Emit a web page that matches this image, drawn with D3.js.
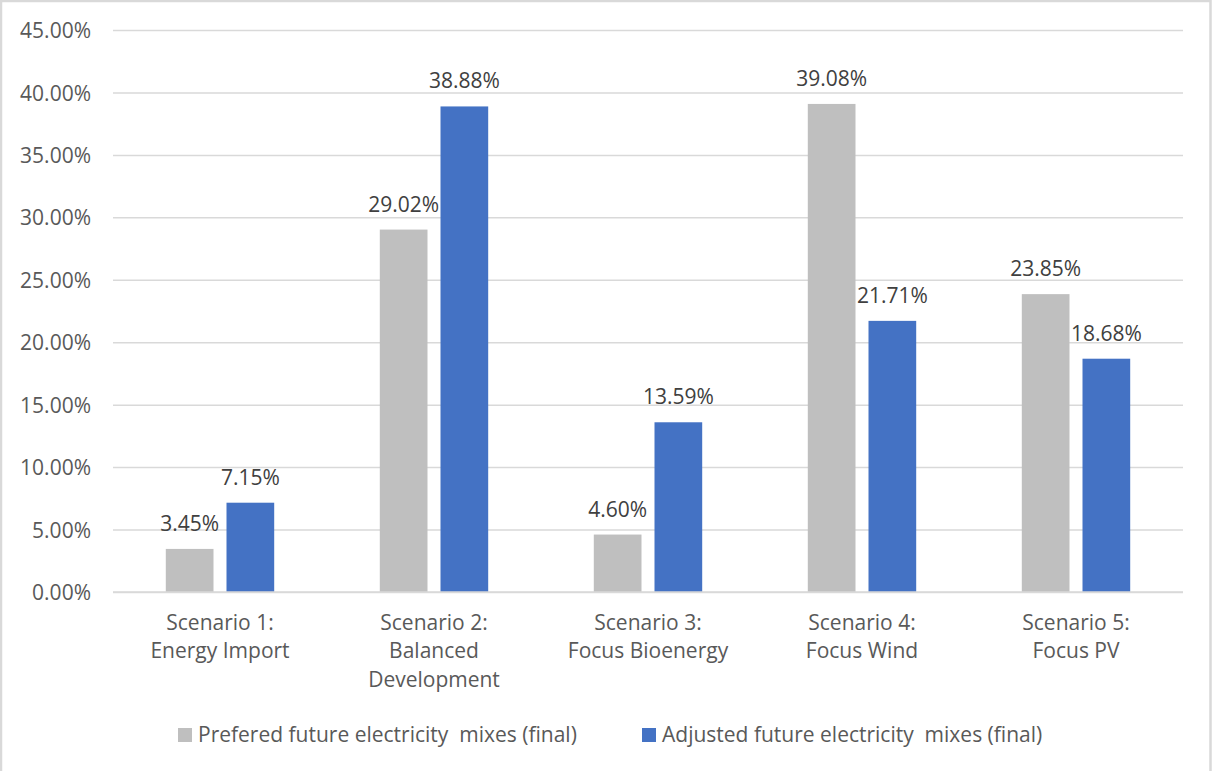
<!DOCTYPE html>
<html>
<head>
<meta charset="utf-8">
<script src="https://cdn.jsdelivr.net/npm/d3@7"></script>
<style>
  html, body { margin: 0; padding: 0; background: #fff; }
  svg { display: block; }
  text { font-family: "Open Sans", "Liberation Sans", sans-serif; }
</style>
</head>
<body>
<svg id="chart" width="1212" height="771"></svg>
<script>
// Scenario categories (line breaks as drawn under the axis)
const categories = [
  ["Scenario 1:", "Energy Import"],
  ["Scenario 2:", "Balanced", "Development"],
  ["Scenario 3:", "Focus Bioenergy"],
  ["Scenario 4:", "Focus Wind"],
  ["Scenario 5:", "Focus PV"]
];
const seriesNames = [
  "Prefered future electricity  mixes (final)",
  "Adjusted future electricity  mixes (final)"
];
const preferred = [3.45, 29.02, 4.60, 39.08, 23.85];
const adjusted = [7.15, 38.88, 13.59, 21.71, 18.68];
const yTicks = [0, 5, 10, 15, 20, 25, 30, 35, 40, 45];
const colors = ["#bfbfbf", "#4472c4"];

const svg = d3.select("#chart");
const W = 1212, H = 771;
const plot = { left: 113, right: 1183, top: 30, bottom: 592 };

// outer chart frame
svg.append("rect")
  .attr("x", 1).attr("y", 1).attr("width", W - 2.5).attr("height", H + 4)
  .attr("fill", "#fff").attr("stroke", "#d9d9d9").attr("stroke-width", 2.5);

const x0 = d3.scaleBand()
  .domain(d3.range(categories.length))
  .range([plot.left, plot.right]);
const barW = 47.7, barGap = 13;
const x1 = d3.scaleOrdinal().domain([0, 1])
  .range([-(barW + barGap / 2), barGap / 2]);
const y = d3.scaleLinear().domain([0, 45]).range([plot.bottom, plot.top]);

// gridlines and y tick labels
const yAxis = d3.axisLeft(y).tickValues(yTicks)
  .tickSize(-(plot.right - plot.left))
  .tickFormat(d => d3.format(".2f")(d) + "%");
const gy = svg.append("g").attr("transform", `translate(${plot.left},0)`).call(yAxis);
gy.select(".domain").remove();
gy.selectAll(".tick line").attr("stroke", "#d9d9d9").attr("stroke-width", 1.5);
gy.selectAll(".tick text")
  .attr("x", -22).attr("dy", "0.36em")
  .attr("fill", "#595959").style("font-size", "21px");

// bars
const series = [preferred, adjusted];
series.forEach((vals, s) => {
  const g = svg.append("g");
  g.selectAll("rect").data(vals).join("rect")
    .attr("x", (d, i) => x0(i) + x0.bandwidth() / 2 + x1(s))
    .attr("y", d => y(d))
    .attr("width", barW)
    .attr("height", d => y(0) - y(d))
    .attr("fill", colors[s]);
  g.selectAll("text").data(vals).join("text")
    .attr("x", (d, i) => x0(i) + x0.bandwidth() / 2 + x1(s) + barW / 2)
    .attr("y", d => y(d) - 18)
    .attr("text-anchor", "middle")
    .attr("fill", "#404040").style("font-size", "21px")
    .text(d => d3.format(".2f")(d) + "%");
});

// redraw the zero line above the bars
svg.append("line")
  .attr("x1", plot.left).attr("x2", plot.right)
  .attr("y1", y(0)).attr("y2", y(0))
  .attr("stroke", "#d9d9d9").attr("stroke-width", 1.5);

// category labels
const catG = svg.append("g");
categories.forEach((lines, i) => {
  const t = catG.append("text")
    .attr("text-anchor", "middle")
    .attr("fill", "#595959").style("font-size", "21px");
  lines.forEach((ln, k) => {
    t.append("tspan")
      .attr("x", x0(i) + x0.bandwidth() / 2)
      .attr("y", 630 + k * 28.4)
      .text(ln);
  });
});

// legend
const legendX = [178, 642];
seriesNames.forEach((name, s) => {
  const g = svg.append("g").attr("transform", `translate(${legendX[s]},728)`);
  g.append("rect").attr("width", 14).attr("height", 14).attr("fill", colors[s]);
  g.append("text").attr("x", 20).attr("y", 14)
    .attr("fill", "#595959").style("font-size", "21px")
    .style("white-space", "pre")
    .attr("xml:space", "preserve")
    .text(name);
});
</script>
</body>
</html>
